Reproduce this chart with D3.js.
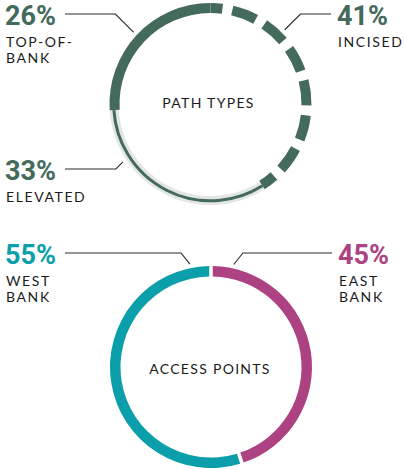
<!DOCTYPE html>
<html>
<head>
<meta charset="utf-8">
<script src="https://cdn.jsdelivr.net/npm/d3@7"></script>
<style>
  html, body { margin: 0; padding: 0; background: #fff; }
  svg { display: block; }
</style>
</head>
<body>
<script>
// Shares of each path type (clockwise from 12 o'clock)
const pathTypeNames  = ["INCISED", "ELEVATED", "TOP-OF-BANK"];
const pathTypeLabels = [["INCISED"], ["ELEVATED"], ["TOP-OF-", "BANK"]];
const pathTypeShares = [41, 33, 26];

// Shares of access points by river bank (clockwise from 12 o'clock)
const accessNames  = ["EAST BANK", "WEST BANK"];
const accessLabels = [["EAST", "BANK"], ["WEST", "BANK"]];
const accessShares = [45, 55];

const chartTitles = ["PATH TYPES", "ACCESS POINTS"];

const W = 404, H = 469;
const GREEN = "#436a5b", TEAL = "#0b9fab", MAGENTA = "#ad4282", INK = "#1b1b1b", HALO = "#e3e6e4";
const R_OUT = 101, R_IN = 91, R_MID = (R_OUT + R_IN) / 2;
const VALUE_FONT = "Roboto, 'DejaVu Sans', sans-serif";
const LABEL_FONT = "Lato, 'Open Sans', sans-serif";

const svg = d3.select("body").append("svg").attr("width", W).attr("height", H);
const pie = d3.pie().sort(null).value(d => d);
const deg = Math.PI / 180;

// point on a circle, angle measured clockwise from 12 o'clock
const polar = (r, a) => [r * Math.sin(a), -r * Math.cos(a)];

// arc centre-line as a stroked path (used for dashed and thin segments)
function strokeArc(r, a0, a1) {
  const p = d3.path();
  p.arc(0, 0, r, a0 - Math.PI / 2, a1 - Math.PI / 2, false);
  return p.toString();
}

// value + category label with an elbow leader pointing at the ring
function drawLabel(g, cx, cy, opt) {
  const grp = svg.append("g");
  const anchor = opt.side === "left" ? "start" : "start";
  const val = grp.append("text")
    .attr("x", opt.x).attr("y", opt.y)
    .attr("font-family", VALUE_FONT).attr("font-weight", 700)
    .attr("font-size", 27).attr("fill", opt.color)
    .attr("text-anchor", anchor)
    .text(opt.value + "%");
  opt.lines.forEach((t, i) => {
    grp.append("text")
      .attr("x", opt.x + 1).attr("y", opt.y + 22 + i * 16)
      .attr("font-family", LABEL_FONT).attr("font-size", 14)
      .attr("letter-spacing", 1.6).attr("fill", INK)
      .text(t);
  });
  const vw = val.node().getComputedTextLength();
  const [px, py] = polar(R_OUT + 4, opt.angle * deg);
  const ex = cx + px, ey = cy + py;
  const ly = opt.y - 11;
  const dir = opt.side === "left" ? -1 : 1;
  const elbowX = ex + dir * Math.abs(ey - ly) * (opt.slope || 1);
  const startX = opt.side === "left" ? opt.x + vw + 9 : opt.x - 6;
  grp.append("path")
    .attr("d", d3.line()([[startX, ly], [elbowX, ly], [ex, ey]]))
    .attr("fill", "none").attr("stroke", "#2a2a2a").attr("stroke-width", 1.1);
}

// ---------- Path types ----------
{
  const cx = 210.5, cy = 104;
  const g = svg.append("g").attr("transform", `translate(${cx},${cy})`);
  const arcs = pie(pathTypeShares);
  const [incised, elevated, topBank] = arcs;

  // elevated: thin line on a pale halo
  g.append("path")
    .attr("d", d3.arc().innerRadius(R_IN + 1).outerRadius(R_OUT)(elevated))
    .attr("fill", HALO);
  g.append("path")
    .attr("d", strokeArc(R_MID + 0.8, elevated.startAngle, elevated.endAngle))
    .attr("fill", "none").attr("stroke", GREEN).attr("stroke-width", 3);

  // incised: dashed band
  g.append("path")
    .attr("d", strokeArc(R_MID, incised.startAngle, incised.endAngle))
    .attr("fill", "none").attr("stroke", GREEN)
    .attr("stroke-width", R_OUT - R_IN)
    .attr("stroke-dasharray", "25 10").attr("stroke-dashoffset", 13);

  // top-of-bank: solid band
  g.append("path")
    .attr("d", d3.arc().innerRadius(R_IN).outerRadius(R_OUT)(topBank))
    .attr("fill", GREEN);

  g.append("text")
    .attr("x", -2).attr("y", 4)
    .attr("text-anchor", "middle")
    .attr("font-family", LABEL_FONT).attr("font-size", 14)
    .attr("letter-spacing", 1.3).attr("fill", INK)
    .text(chartTitles[0]);

  const layout = [
    { side: "right", x: 337, y: 25, angle: 45 },
    { side: "left",  x: 5,   y: 180, angle: 236.5 },
    { side: "left",  x: 5,   y: 25, angle: 313 }
  ];
  layout.forEach((L, i) => drawLabel(g, cx, cy, Object.assign({
    value: pathTypeShares[i], lines: pathTypeLabels[i], color: GREEN
  }, L)));
}

// ---------- Access points ----------
{
  const cx = 211, cy = 367;
  const g = svg.append("g").attr("transform", `translate(${cx},${cy})`);
  const colors = [MAGENTA, TEAL];
  const arc = d3.arc().innerRadius(R_IN - 0.5).outerRadius(R_OUT).padRadius(R_OUT);
  g.selectAll("path.seg")
    .data(pie.padAngle(0.035)(accessShares))
    .join("path").attr("class", "seg")
    .attr("d", arc)
    .attr("fill", (d, i) => colors[i]);

  g.append("text")
    .attr("x", -1).attr("y", 7)
    .attr("text-anchor", "middle")
    .attr("font-family", LABEL_FONT).attr("font-size", 14)
    .attr("letter-spacing", 1.3).attr("fill", INK)
    .text(chartTitles[1]);

  const layout = [
    { side: "right", x: 338, y: 264, angle: 12.5, slope: 0.8 },
    { side: "left",  x: 5,   y: 264, angle: -11.6, slope: 0.8 }
  ];
  layout.forEach((L, i) => drawLabel(g, cx, cy, Object.assign({
    value: accessShares[i], lines: accessLabels[i], color: colors[i]
  }, L)));
}
</script>
</body>
</html>
